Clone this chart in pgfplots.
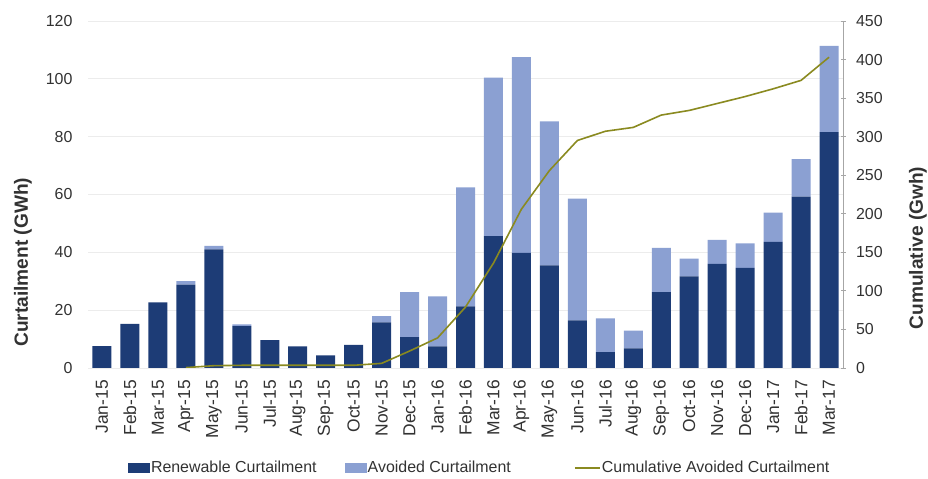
\documentclass[border=0pt]{standalone}
\usepackage{fontspec}
\setmainfont{Liberation Sans}
\usepackage{pgfplots}
\pgfplotsset{compat=1.18}
\definecolor{darkbar}{RGB}{29,60,118}
\definecolor{lightbar}{RGB}{139,160,210}
\definecolor{cumline}{RGB}{138,138,32}
\definecolor{gridc}{RGB}{236,236,236}
\definecolor{txt}{RGB}{50,50,50}
\begin{document}
\begin{tikzpicture}[x=1bp,y=1bp]
\useasboundingbox (-88,-111) rectangle (840,368);
\begin{axis}[
  at={(0,0)}, anchor=south west,
  scale only axis, width=755bp, height=347bp,
  xmin=-0.5, xmax=26.5, ymin=0, ymax=120,
  ybar stacked, bar width=19bp,
  xtick={0,...,26},
  xticklabels={Jan-15,Feb-15,Mar-15,Apr-15,May-15,Jun-15,Jul-15,Aug-15,Sep-15,Oct-15,Nov-15,Dec-15,Jan-16,Feb-16,Mar-16,Apr-16,May-16,Jun-16,Jul-16,Aug-16,Sep-16,Oct-16,Nov-16,Dec-16,Jan-17,Feb-17,Mar-17},
  ytick={0,20,...,120},
  axis y line*=left, axis x line*=bottom,
  axis line style={draw=none},
  major tick length=0pt,
  ymajorgrids, grid style={gridc, line width=0.8bp},
  /pgf/number format/assume math mode=true,
  tick label style={font=\fontsize{16}{16}\selectfont, text=txt},
  x tick label style={rotate=90, anchor=east, inner sep=2bp, xshift=-10bp, font=\fontsize{17.5}{17.5}\selectfont},
  y tick label style={xshift=-12bp},
  ylabel={Curtailment (GWh)},
  ylabel style={at={(axis description cs:-0.0861,0.305)}, rotate=0, anchor=center, font=\fontsize{19.2}{19.2}\selectfont\bfseries, text=txt},
  legend columns=3,
  legend style={at={(0.053,-0.288)}, anchor=west, draw=none, fill=none, inner sep=0pt, outer sep=0pt,
    font=\fontsize{16}{16}\selectfont, text=txt,
    nodes={inner sep=1bp},
    /tikz/column 2/.style={column sep=27bp},
    /tikz/column 4/.style={column sep=62bp}},
]
\addplot[fill=darkbar, draw=none, legend image code/.code={\fill[darkbar] (0bp,-5bp) rectangle (22bp,5bp);}] coordinates {
(0,7.6) (1,15.3) (2,22.7) (3,28.8) (4,41.0) (5,14.5) (6,9.6) (7,7.5) (8,4.4) (9,8.0)
(10,15.8) (11,10.7) (12,7.5) (13,21.3) (14,45.6) (15,39.8) (16,35.5) (17,16.5) (18,5.5)
(19,6.8) (20,26.2) (21,31.7) (22,36.0) (23,34.6) (24,43.6) (25,59.3) (26,81.6)};
\addlegendentry{Renewable Curtailment}
\addplot[fill=lightbar, draw=none, legend image code/.code={\fill[lightbar] (0bp,-5bp) rectangle (22bp,5bp);}] coordinates {
(0,0) (1,0) (2,0) (3,1.2) (4,1.2) (5,0.6) (6,0) (7,0) (8,0) (9,0)
(10,2.1) (11,15.5) (12,17.3) (13,41.2) (14,54.8) (15,67.7) (16,49.8) (17,42.1) (18,11.7)
(19,6.1) (20,15.3) (21,6.1) (22,8.3) (23,8.5) (24,10.1) (25,12.9) (26,29.8)};
\addlegendentry{Avoided Curtailment}
\addlegendimage{legend image code/.code={\draw[cumline, line width=2bp] (0bp,0bp) -- (25bp,0bp);}}
\addlegendentry{Cumulative Avoided Curtailment}
\end{axis}
\begin{axis}[
  at={(0,0)}, anchor=south west,
  scale only axis, width=755bp, height=347bp,
  xmin=-0.5, xmax=26.5, ymin=0, ymax=450,
  axis x line=none, axis y line*=right,
  ytick={0,50,...,450},
  y axis line style={draw=gray!70, line width=0.8bp},
  tick style={draw=gray!70, line width=0.8bp},
  major tick length=5bp, tick align=center,
  /pgf/number format/assume math mode=true,
  tick label style={font=\fontsize{16}{16}\selectfont, text=txt},
  y tick label style={xshift=7bp},
  ylabel={Cumulative (Gwh)},
  ylabel style={at={(axis description cs:1.0993,0.346)}, rotate=0, anchor=center, font=\fontsize{19.2}{19.2}\selectfont\bfseries, text=txt},
]
\addplot[cumline, line width=1.6bp, mark=none] coordinates {
(3,0.5) (4,3) (5,3.5) (6,3.5) (7,3.5) (8,3.5) (9,3.5) (10,6) (11,22) (12,39) (13,79)
(14,136) (15,206) (16,256) (17,295) (18,307) (19,312) (20,328) (21,334) (22,343)
(23,352) (24,362) (25,373) (26,403)};
\end{axis}
\end{tikzpicture}
\end{document}
